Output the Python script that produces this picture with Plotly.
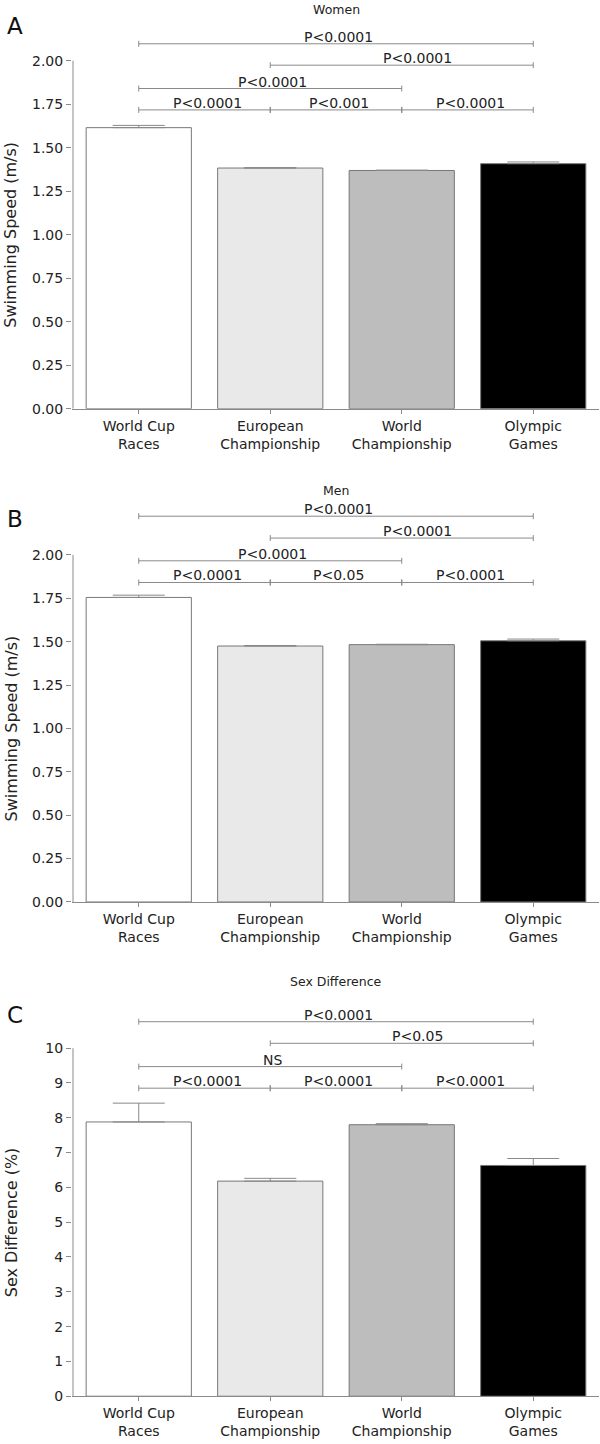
import plotly.graph_objects as go

# ---------------- data ----------------
categories = ["World Cup<br>Races", "European<br>Championship", "World<br>Championship", "Olympic<br>Games"]
women_speed = [1.615, 1.383, 1.369, 1.408]
women_err = [0.013, 0.002, 0.002, 0.010]
men_speed = [1.755, 1.475, 1.483, 1.505]
men_err = [0.013, 0.003, 0.002, 0.010]
sex_diff = [7.88, 6.18, 7.80, 6.63]
sex_diff_err = [0.54, 0.08, 0.03, 0.20]
speed_ticks = [0.0, 0.25, 0.5, 0.75, 1.0, 1.25, 1.5, 1.75, 2.0]
diff_ticks = [0, 1, 2, 3, 4, 5, 6, 7, 8, 9, 10]
# comparisons: (from, to, label)
women_tests = [(0, 3, "P<0.0001"), (1, 3, "P<0.0001"), (0, 2, "P<0.0001"),
               (0, 1, "P<0.0001"), (1, 2, "P<0.001"), (2, 3, "P<0.0001")]
men_tests = [(0, 3, "P<0.0001"), (1, 3, "P<0.0001"), (0, 2, "P<0.0001"),
             (0, 1, "P<0.0001"), (1, 2, "P<0.05"), (2, 3, "P<0.0001")]
diff_tests = [(0, 3, "P<0.0001"), (1, 3, "P<0.05"), (0, 2, "NS"),
              (0, 1, "P<0.0001"), (1, 2, "P<0.0001"), (2, 3, "P<0.0001")]

bar_colors = ["#ffffff", "#e9e9e9", "#bdbdbd", "#000000"]

W, H = 600, 1444
FONT = "DejaVu Sans, Liberation Sans, Arial, sans-serif"
TXT = "#222222"
GRAY = "#8a8a8a"
X0_PX, X1_PX = 72, 599
PX_PER_CAT = 131.5

panels = [
    dict(letter="A", title="Women", vals=women_speed, err=women_err, tests=women_tests,
         zero_px=411, ppu=175.0, ymax=2.25, ticks=speed_ticks, fmt="{:.2f}", axis_top=2.0,
         rows=[2.097, 1.974, 1.84, 1.717], ytitle="Swimming Speed (m/s)", title_px=10, letter_px=26),
    dict(letter="B", title="Men", vals=men_speed, err=men_err, tests=men_tests,
         zero_px=907, ppu=174.5, ymax=2.32, ticks=speed_ticks, fmt="{:.2f}", axis_top=2.0,
         rows=[2.223, 2.097, 1.966, 1.841], ytitle="Swimming Speed (m/s)", title_px=493, letter_px=522),
    dict(letter="C", title="Sex Difference", vals=sex_diff, err=sex_diff_err, tests=diff_tests,
         zero_px=1404, ppu=35.0, ymax=11.1, ticks=diff_ticks, fmt="{:d}", axis_top=10,
         rows=[10.76, 10.14, 9.47, 8.85], ytitle="Sex Difference (%)", title_px=987, letter_px=1021),
]

fig = go.Figure()
shapes = []
annotations = []

xr0 = -0.5 - 1.0 / PX_PER_CAT

for k, p in enumerate(panels):
    sfx = "" if k == 0 else str(k + 1)
    xa, ya = "x" + sfx, "y" + sfx
    top_px = p["zero_px"] - p["ymax"] * p["ppu"]
    dom = [1 - p["zero_px"] / H, 1 - top_px / H]
    fig.add_trace(go.Bar(
        x=[0, 1, 2, 3], y=p["vals"], width=0.8,
        marker=dict(color=bar_colors, line=dict(color="#777777", width=1)),
        error_y=dict(type="data", array=p["err"], arrayminus=[0, 0, 0, 0], symmetric=False,
                     color="#888888", thickness=1, width=26),
        xaxis=xa, yaxis=ya, showlegend=False, hoverinfo="skip"))
    fig.layout["xaxis" + sfx] = dict(
        domain=[X0_PX / W, X1_PX / W], range=[xr0, 3.5], anchor=ya,
        showline=True, linecolor=GRAY, linewidth=1, ticks="outside", ticklen=4,
        tickcolor=GRAY, tickvals=[0, 1, 2, 3], ticktext=categories,
        tickfont=dict(size=14, color=TXT, family=FONT),
        showgrid=False, zeroline=False, fixedrange=True)
    fig.layout["yaxis" + sfx] = dict(
        domain=dom, range=[0, p["ymax"]], anchor=xa, showline=False,
        ticks="outside", ticklen=5, tickcolor=GRAY, tickvals=p["ticks"],
        ticktext=[p["fmt"].format(t) for t in p["ticks"]],
        tickfont=dict(size=14, color=TXT, family=FONT), showgrid=False, zeroline=False,
        fixedrange=True)
    shapes.append(dict(type="line", xref=xa, yref=ya, x0=-0.5, x1=-0.5, y0=0, y1=p["axis_top"],
                       line=dict(color=GRAY, width=1)))
    tick_h = 3.0 / p["ppu"]
    row_of = [0, 1, 2, 3, 3, 3]
    for (a, b, lab), r in zip(p["tests"], row_of):
        yv = p["rows"][r]
        shapes.append(dict(type="line", xref=xa, yref=ya, x0=a, x1=b, y0=yv, y1=yv,
                           line=dict(color=GRAY, width=1)))
        for xe in (a, b):
            shapes.append(dict(type="line", xref=xa, yref=ya, x0=xe, x1=xe,
                               y0=yv - tick_h, y1=yv + tick_h, line=dict(color=GRAY, width=1)))
        xm = (a + b) / 2 + (0.12 if r == 1 else 0.02)
        annotations.append(dict(x=xm, xref=xa, y=yv, yref=ya, text=lab, showarrow=False,
                                xanchor="center", yanchor="bottom", yshift=-3,
                                font=dict(size=14, color=TXT, family=FONT)))
    annotations.append(dict(x=336 / W, xref="paper", y=1 - p["title_px"] / H, yref="paper",
                            text=p["title"], showarrow=False, xanchor="center", yanchor="middle",
                            font=dict(size=12.5, color=TXT, family=FONT)))
    annotations.append(dict(x=15 / W, xref="paper", y=1 - p["letter_px"] / H, yref="paper",
                            text=p["letter"], showarrow=False, xanchor="center", yanchor="middle",
                            font=dict(size=23, color="#111111", family=FONT)))
    annotations.append(dict(x=11 / W, xref="paper", y=p["axis_top"] / 2, yref=ya,
                            text=p["ytitle"], showarrow=False, textangle=-90,
                            xanchor="center", yanchor="middle",
                            font=dict(size=16, color=TXT, family=FONT)))

fig.update_layout(
    width=W, height=H, autosize=False,
    margin=dict(l=0, r=0, t=0, b=0),
    paper_bgcolor="white", plot_bgcolor="white",
    shapes=shapes, annotations=annotations, bargap=0.2,
    font=dict(family=FONT, color=TXT),
)

post = "document.documentElement.style.margin='0';document.body.style.margin='0';document.body.style.overflow='hidden';"
fig.write_html("out.html", post_script=post, config={"displayModeBar": False})
